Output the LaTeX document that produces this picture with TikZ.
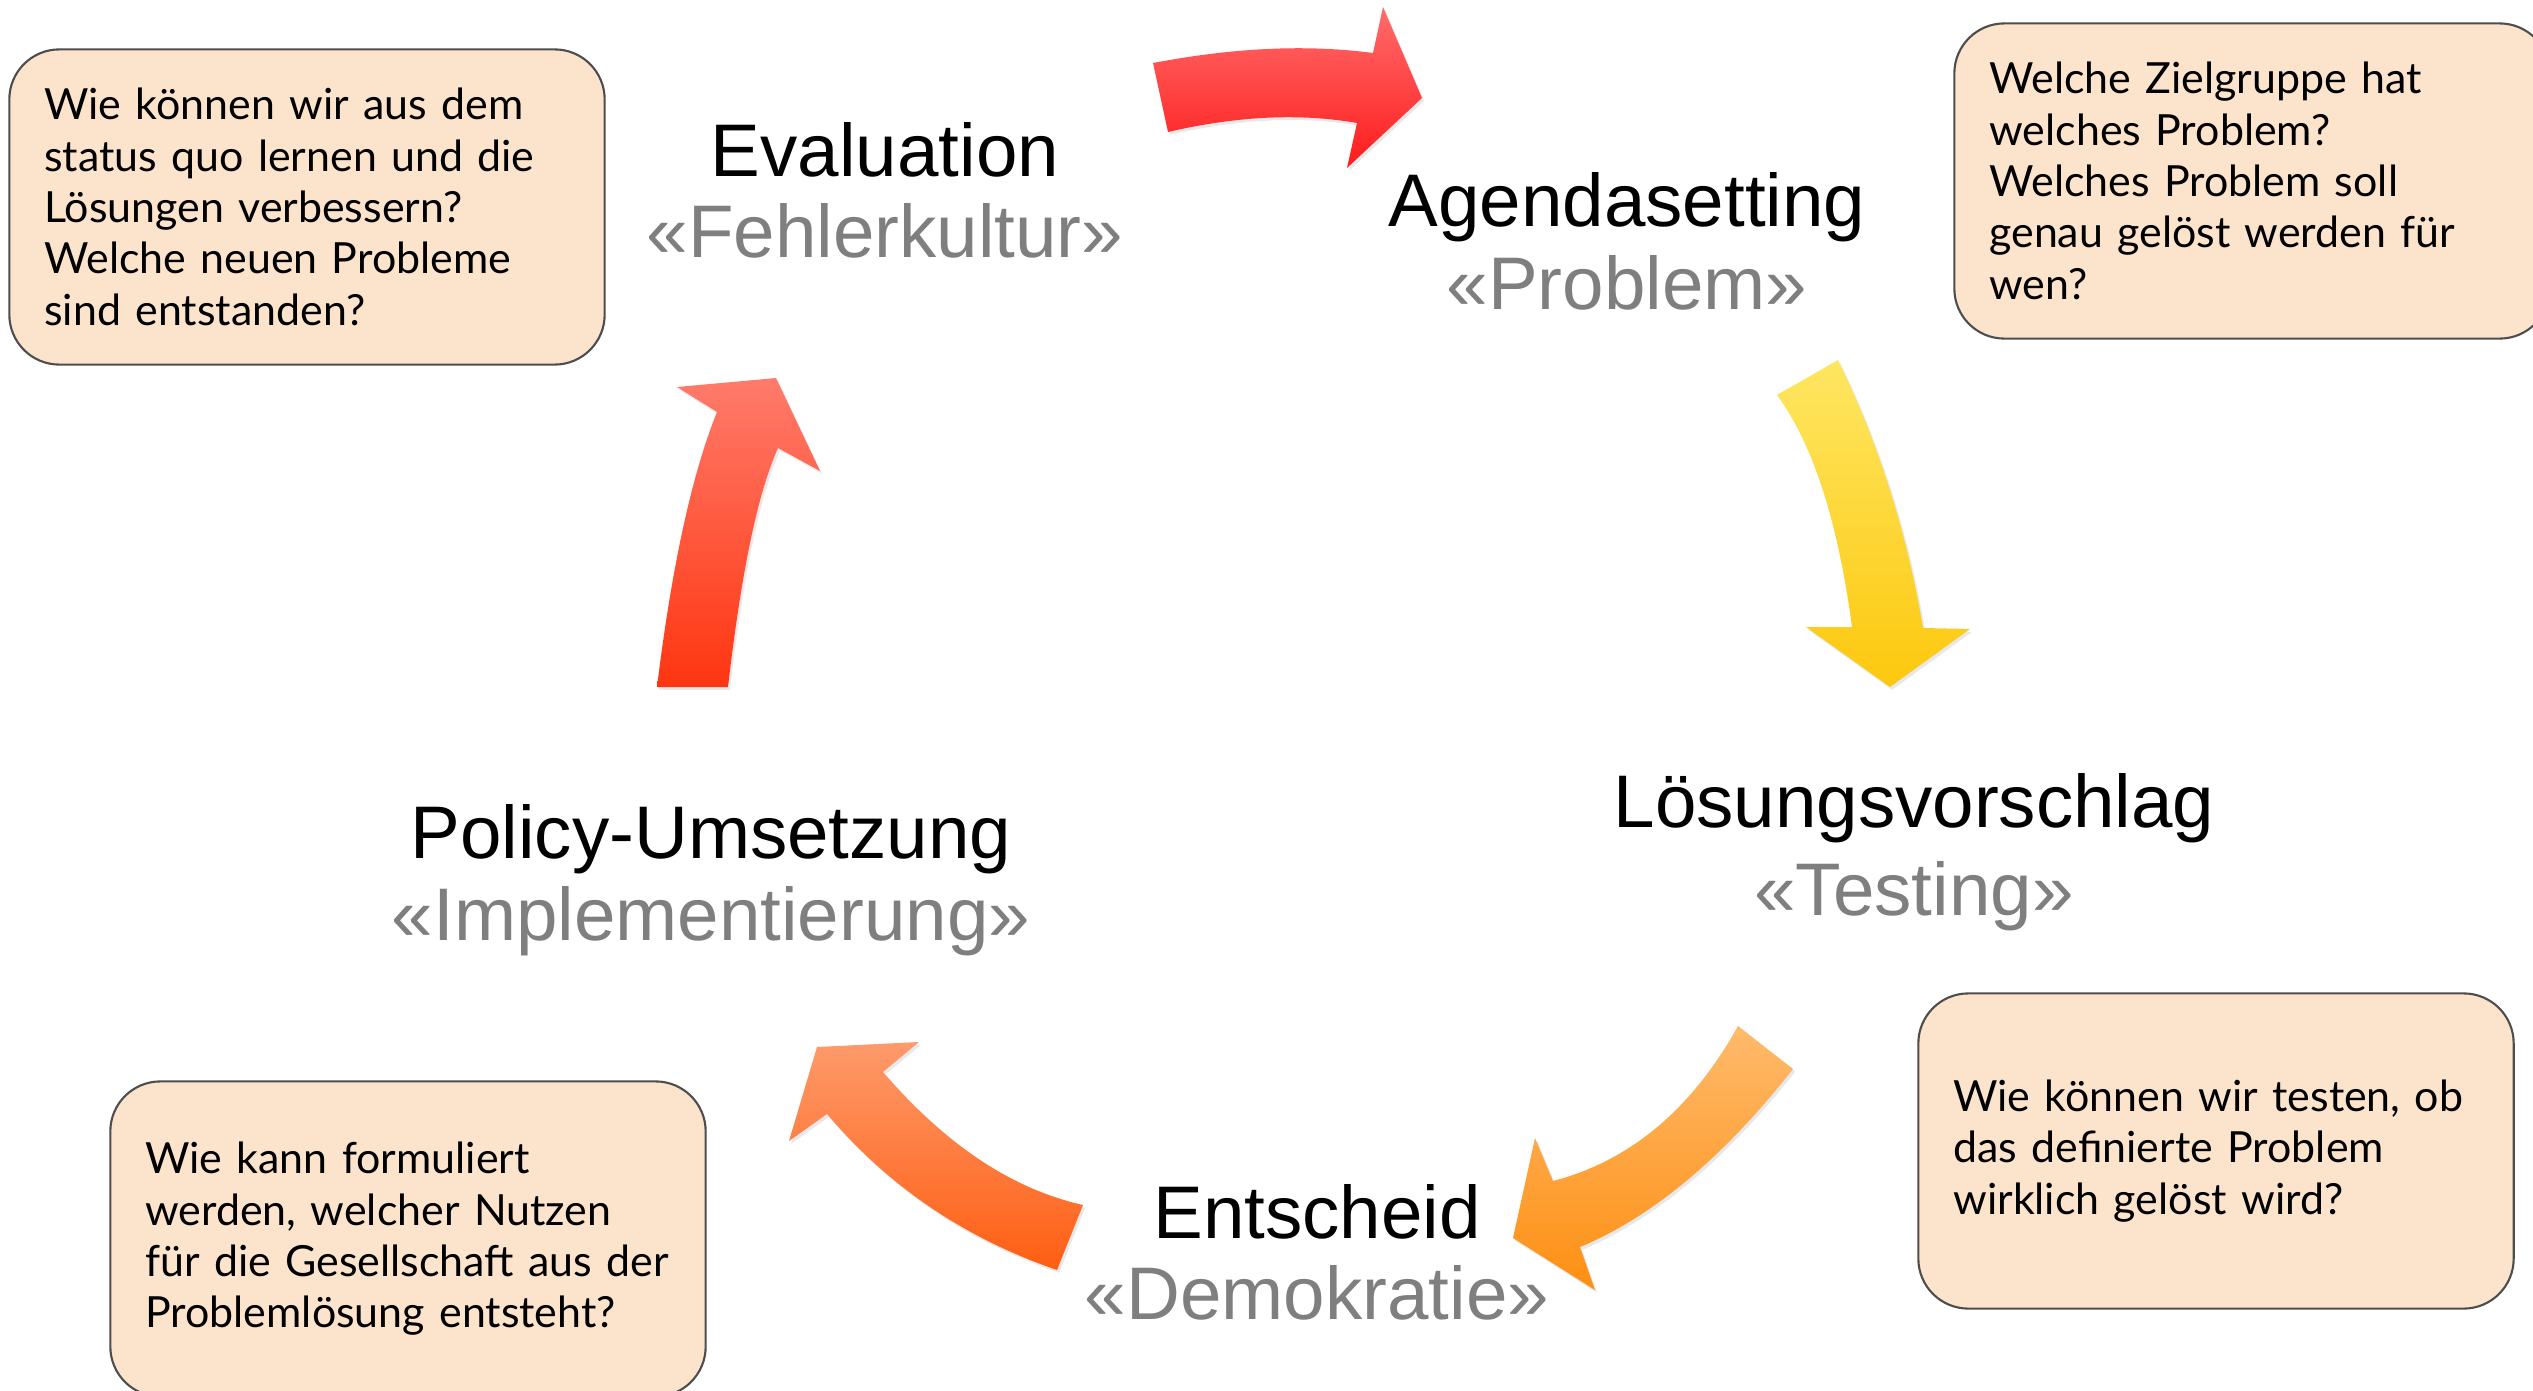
\documentclass[tikz,border=0pt]{standalone}
\usepackage{fontspec}
\setmainfont{Liberation Sans}
\newfontfamily\fragefont{Lato}
\usetikzlibrary{shadows}
\usetikzlibrary{positioning}
\definecolor{pfirsich}{HTML}{FCE4CC}
\definecolor{rahmen}{HTML}{4D4D4D}
\definecolor{grau}{HTML}{7F7F7F}

\begin{document}
\begin{tikzpicture}[x=0.01cm,y=-0.01cm,
 frage/.style={draw=rahmen, fill=pfirsich, line width=.6pt, rounded corners=.5cm, minimum width=5.95cm, minimum height=3.15cm, text width=5.25cm, align=left, inner sep=0pt, font=\fragefont\fontsize{12.2}{14.6}\selectfont},
 stufe/.style={anchor=base, inner sep=0pt, font=\fontsize{21.2}{24}\selectfont},
 motto/.style={stufe, text=grau},
 pfeil/.style={drop shadow={opacity=.18, shadow xshift=.6pt, shadow yshift=-.8pt}}]
\useasboundingbox (0,0) rectangle (2533,1391);
\clip (0,0) rectangle (2533,1391);

% pfeile
\shade[pfeil, top color={rgb,255:red,255;green,108;blue,108}, bottom color={rgb,255:red,255;green,28;blue,28}]
 (1153,63) .. controls (1232,48) and (1305,44) .. (1373,53) -- (1383,7) -- (1422,98) -- (1347,168) -- (1357,123)
 .. controls (1300,113) and (1237,116) .. (1168,132) -- cycle;
\shade[pfeil, top color={rgb,255:red,254;green,230;blue,98}, bottom color={rgb,255:red,253;green,200;blue,14}]
 (1777,395) -- (1838,360) .. controls (1879,444) and (1907,533) .. (1923,628) -- (1970,629) -- (1890,687) -- (1806,627) -- (1852,627)
 .. controls (1838,522) and (1813,444) .. (1777,395) -- cycle;
\shade[pfeil, top color={rgb,255:red,254;green,186;blue,108}, bottom color={rgb,255:red,254;green,143;blue,18}]
 (1738,1026) -- (1793,1069) .. controls (1723,1158) and (1652,1217) .. (1580,1247) -- (1595,1290) -- (1513,1238) -- (1535,1138) -- (1553,1181)
 .. controls (1630,1161) and (1692,1109) .. (1738,1026) -- cycle;
\shade[pfeil, top color={rgb,255:red,254;green,154;blue,107}, bottom color={rgb,255:red,254;green,94;blue,18}]
 (1057,1270) -- (1083,1205) .. controls (1012,1189) and (946,1145) .. (883,1072) -- (919,1042) -- (817,1047) -- (789,1141) -- (827,1114)
 .. controls (888,1186) and (964,1238) .. (1057,1270) -- cycle;
\shade[pfeil, top color={rgb,255:red,255;green,123;blue,107}, bottom color={rgb,255:red,255;green,53;blue,16}]
 (657,687) -- (728,687) .. controls (741,575) and (757,495) .. (778,448) -- (820,471) -- (776,378) -- (677,387) -- (717,412)
 .. controls (692,474) and (672,565) .. (657,687) -- cycle;

% stufen
\foreach \n/\x/\y/\z/\t/\u in {1/885/177/258/Evaluation/Fehlerkultur, 2/1627/227/310/Agendasetting/Problem, 3/1914/827/915/Lösungsvorschlag/Testing, 4/1317/1238/1319/Entscheid/Demokratie, 5/711/858/940/Policy-Umsetzung/Implementierung} {
 \node[stufe] (stufe\n) at (\x,\y) {\t};
 \node[motto] (motto\n) at (\x,\z) {«\u»};
}

% fragen
\node[frage] (frageeval) at (307,207) {Wie können wir aus dem\\status quo lernen und die\\Lösungen verbessern?\\Welche neuen Probleme\\sind entstanden?};
\node[frage] (frageagenda) at (2252,181) {Welche Zielgruppe hat\\welches Problem?\\Welches Problem soll\\genau gelöst werden für\\wen?};
\node[frage] (fragetest) at (2216,1151) {Wie können wir testen, ob\\das definierte Problem\\wirklich gelöst wird?};
\node[frage] (fragepolicy) at (408,1239) {Wie kann formuliert\\werden, welcher Nutzen\\für die Gesellschaft aus der\\Problemlösung entsteht?};
\end{tikzpicture}
\end{document}
